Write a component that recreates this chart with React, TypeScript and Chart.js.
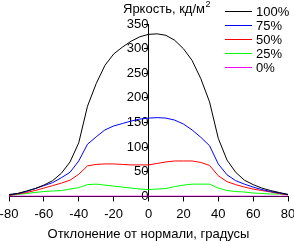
import React, { useEffect, useRef } from "react";
import { Chart, registerables } from "chart.js";

Chart.register(...registerables);

const angles = [-80, -75, -70, -65, -60, -55, -50, -45, -40, -35, -30, -25, -20, -15, -10, -5, 0, 5, 10, 15, 20, 25, 30, 35, 40, 45, 50, 55, 60, 65, 70, 75, 80];
const lum100 = [4, 6, 11, 16, 23, 32, 47, 70, 109, 183, 229, 266, 289, 303, 315, 324, 329, 330, 327, 317, 300, 276, 239, 192, 118, 74, 49, 33, 24, 17, 12, 8, 4];
const lum75 = [3, 6, 10, 16, 22, 28, 38, 49, 72, 106, 121, 135, 143, 148, 153, 157, 159, 160, 159, 155, 147, 135, 120, 103, 66, 44, 32, 25, 19, 14, 10, 7, 4];
const lum50 = [2, 5, 8, 12, 17, 22, 27, 33, 45, 62, 65, 66, 66, 65, 64, 64, 64, 67, 70, 72, 72, 72, 69, 63, 42, 30, 24, 19, 15, 12, 9, 6, 3];
const lum25 = [2, 4, 6, 8, 10, 11, 12, 15, 18, 24, 25, 23, 21, 19, 17, 15, 14, 15, 16, 20, 23, 25, 25, 25, 17, 12, 10, 9, 7, 6, 5, 5, 4];
const lum0 = [0.5, 0.5, 0.5, 0.5, 0.5, 0.5, 0.5, 0.5, 0.5, 0.5, 0.5, 0.5, 0.5, 0.5, 0.5, 0.5, 0.5, 0.5, 0.5, 0.5, 0.5, 0.5, 0.5, 0.5, 0.5, 0.5, 0.5, 0.5, 0.5, 0.5, 0.5, 0.5, 0.5];

const seriesLabels = ["100%", "75%", "50%", "25%", "0%"];
const seriesValues = [lum100, lum75, lum50, lum25, lum0];
const seriesColors = ["#000000", "#0000ff", "#ff0000", "#00ff00", "#ff00ff"];

const xMin = -80;
const xMax = 80;
const xStep = 20;
const yMin = 0;
const yMax = 350;
const yStep = 50;

const xTitle = "Отклонение от нормали, градусы";
const yTitle = "Яркость, кд/м";
const yTitleSup = "2";

const FONT = "'Liberation Sans', Arial, sans-serif";

const overlayPlugin = {
  id: "overlay",
  afterDraw(chart: any) {
    const ctx = chart.ctx as CanvasRenderingContext2D;
    ctx.save();
    // axis title at top
    ctx.fillStyle = "#000";
    ctx.font = `13px ${FONT}`;
    ctx.textBaseline = "middle";
    ctx.textAlign = "left";
    const tx = 123;
    ctx.fillText(yTitle, tx, 9);
    const w = ctx.measureText(yTitle).width;
    ctx.font = `9px ${FONT}`;
    ctx.fillText(yTitleSup, tx + w + 0.5, 5);
    // legend
    ctx.font = `13px ${FONT}`;
    seriesLabels.forEach((lab, i) => {
      const y = 11 + i * 14;
      ctx.strokeStyle = seriesColors[i];
      ctx.lineWidth = 1;
      ctx.beginPath();
      ctx.moveTo(225, y + 0.5);
      ctx.lineTo(252, y + 0.5);
      ctx.stroke();
      ctx.fillStyle = "#000";
      ctx.fillText(lab, 256, y + 1);
    });
    ctx.restore();
  },
};

export default function App() {
  const ref = useRef<HTMLCanvasElement | null>(null);
  useEffect(() => {
    if (!ref.current) return;
    const datasets = seriesLabels.map((lab, i) => ({
      label: lab,
      data: angles.map((a, j) => ({ x: a, y: seriesValues[i][j] })),
      borderColor: seriesColors[i],
      backgroundColor: seriesColors[i],
      borderWidth: 1,
      pointRadius: 0,
      tension: 0,
      fill: false,
    }));
    const chart = new Chart(ref.current, {
      type: "line",
      data: { datasets },
      options: {
        animation: false,
        responsive: false,
        devicePixelRatio: 1,
        layout: { padding: { left: 9, right: 6, top: 24, bottom: 0 } },
        plugins: { legend: { display: false }, tooltip: { enabled: false } },
        scales: {
          x: {
            type: "linear",
            position: "bottom",
            min: xMin,
            max: xMax,
            ticks: {
              stepSize: xStep,
              color: "#000",
              padding: 5,
              font: { family: FONT, size: 13, lineHeight: 1.2 },
              maxRotation: 0,
            },
            grid: { drawOnChartArea: false, drawTicks: true, tickLength: 5, color: "#000" },
            border: { color: "#000", width: 1 },
            title: {
              display: true,
              text: xTitle,
              color: "#000",
              padding: { top: 0, bottom: 0 },
              font: { family: FONT, size: 13, lineHeight: 1.15 },
            },
            afterFit: (scale: any) => {
              scale.paddingLeft = 9;
              scale.paddingRight = 6;
            },
          },
          y: {
            type: "linear",
            position: { x: 0 },
            min: yMin,
            max: yMax,
            ticks: {
              stepSize: yStep,
              color: "#000",
              padding: 6,
              font: { family: FONT, size: 13 },
            },
            grid: { drawOnChartArea: false, drawTicks: true, tickLength: 4, color: "#000" },
            border: { color: "#000", width: 1 },
          },
        },
      },
      plugins: [overlayPlugin],
    } as any);
    return () => chart.destroy();
  }, []);
  return (
    <div style={{ position: "fixed", left: 0, top: 0, width: 294, height: 242, background: "#fff" }}>
      <canvas ref={ref} width={294} height={242} style={{ display: "block", width: 294, height: 242 }} />
    </div>
  );
}
